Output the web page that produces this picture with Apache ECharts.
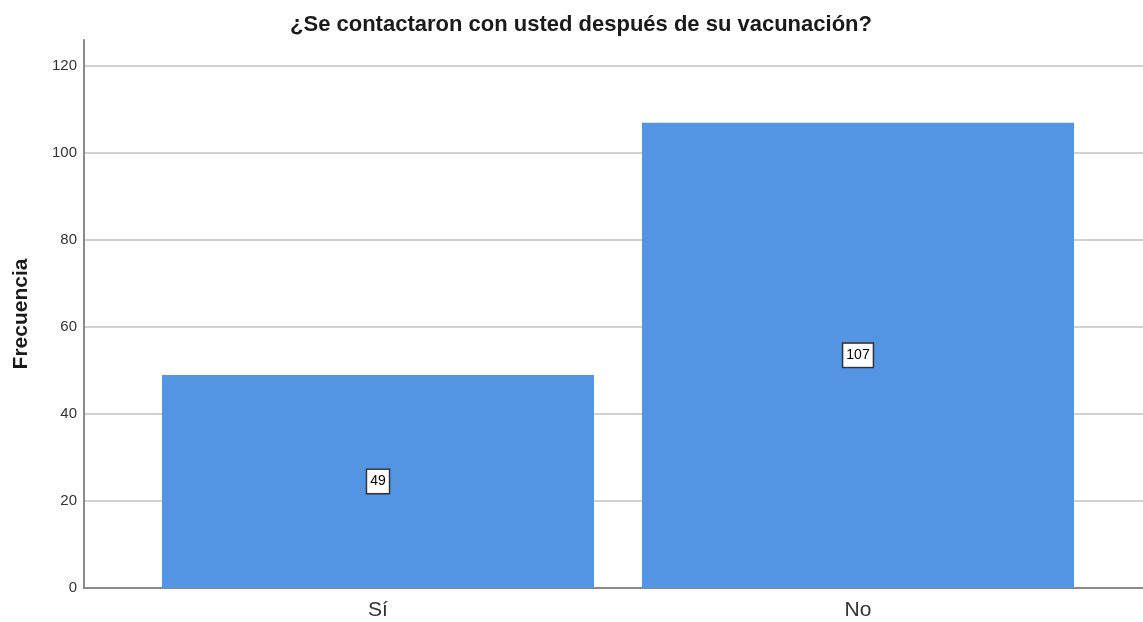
<!DOCTYPE html>
<html>
<head>
<meta charset="utf-8">
<script src="https://cdn.jsdelivr.net/npm/echarts@6/dist/echarts.min.js"></script>
<style>html,body{margin:0;padding:0;background:#fff}#c{width:1143px;height:622px}</style>
</head>
<body>
<div id="c"></div>
<script>
var categories = ['Sí', 'No'];
var frecuencia = [49, 107];
var yTicks = [0, 20, 40, 60, 80, 100, 120];
var titleText = '¿Se contactaron con usted después de su vacunación?';
var yName = 'Frecuencia';

var chart = echarts.init(document.getElementById('c'), null, {renderer: 'canvas'});
var font = 'Liberation Sans, Arial, sans-serif';
chart.setOption({
  animation: false,
  title: {
    text: titleText, left: 576, top: 9, textAlign: 'center',
    textStyle: {fontFamily: font, fontSize: 22, fontWeight: 'bold', color: '#1a1a1a'}
  },
  grid: [
    {left: 84, right: 0, top: 40, bottom: 34, outerBoundsMode: 'none', containLabel: false},
    {left: 138, right: 45, top: 40, bottom: 34, outerBoundsMode: 'none', containLabel: false}
  ],
  xAxis: [
    {type: 'value', gridIndex: 0, min: 0, max: 1,
     axisLine: {show: true, onZero: false, lineStyle: {color: '#8a8a8a', width: 2}},
     axisTick: {show: false}, axisLabel: {show: false}, splitLine: {show: false}},
    {type: 'category', gridIndex: 1, data: categories,
     axisLine: {show: false}, axisTick: {show: false},
     axisLabel: {fontFamily: font, fontSize: 21, color: '#333', margin: 12}}
  ],
  yAxis: [
    {type: 'value', gridIndex: 0, min: 0, max: 126, interval: 20,
     name: yName, nameLocation: 'middle', nameGap: 52,
     nameTextStyle: {fontFamily: font, fontSize: 21, fontWeight: 'bold', color: '#1a1a1a'},
     axisLine: {show: true, lineStyle: {color: '#8a8a8a', width: 2}},
     axisTick: {show: false},
     axisLabel: {fontFamily: font, fontSize: 15, color: '#333', margin: 7,
       formatter: function (v) { return yTicks.indexOf(v) >= 0 ? String(v) : ''; }},
     splitLine: {show: true, showMaxLine: false, lineStyle: {color: '#d0d0d0', width: 2}}},
    {type: 'value', gridIndex: 1, min: 0, max: 126, show: false}
  ],
  series: [{
    type: 'bar', xAxisIndex: 1, yAxisIndex: 1, data: frecuencia,
    barWidth: 432,
    itemStyle: {color: '#5495e3'},
    label: {show: true, position: 'inside', fontFamily: font, fontSize: 14, color: '#000',
      backgroundColor: '#fff', borderColor: '#333', borderWidth: 1.5, padding: [5, 3, 4, 3]}
  }]
});
</script>
</body>
</html>
